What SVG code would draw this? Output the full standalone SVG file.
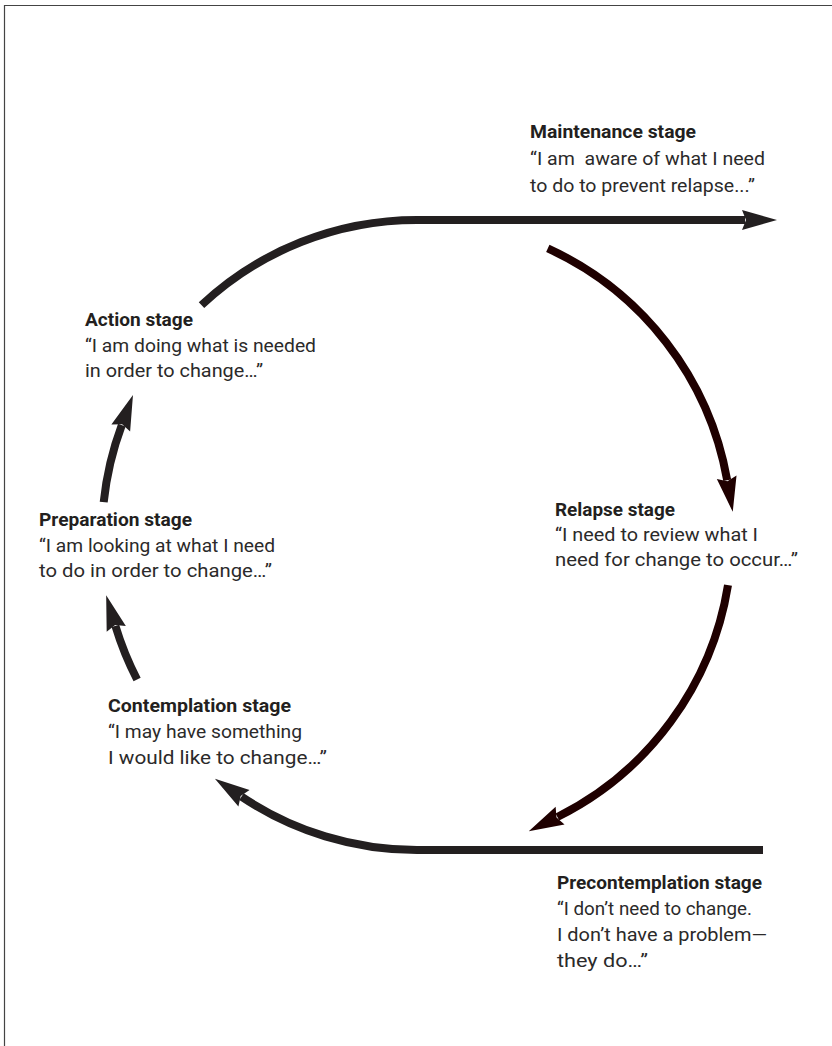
<svg xmlns="http://www.w3.org/2000/svg" width="832" height="1046" viewBox="0 0 832 1046">
<style>
.t{font-family:"Roboto","Liberation Sans",sans-serif;font-size:19px;fill:#2b2a2a}
.b{font-weight:700;fill:#231f20}
.arr{fill:none;stroke:#231f20;stroke-width:8}
.arr2{fill:none;stroke:#1f0000;stroke-width:8}
</style>
<defs>
<marker id="ah" markerUnits="userSpaceOnUse" orient="auto" overflow="visible" refX="0" refY="0" markerWidth="1" markerHeight="1"><path d="M-3,-10 L32,0 L-3,10 L1,0 Z" fill="#231f20"/></marker>
<marker id="ah2" markerUnits="userSpaceOnUse" orient="auto" overflow="visible" refX="0" refY="0" markerWidth="1" markerHeight="1"><path d="M-3,-10 L32,0 L-3,10 L1,0 Z" fill="#1f0000"/></marker>
</defs>
<rect width="832" height="1046" fill="#fff"/>
<path d="M4.5,1046 V5.5 H832" fill="none" stroke="#444" stroke-width="1.2"/>
<g id="connectors">
<path class="arr" d="M201.5,305.2 A315,315 0 0 1 417,220 L745,220" marker-end="url(#ah)"/>
<path class="arr2" d="M547.8,248.4 A315,315 0 0 1 727.2,480.3" marker-end="url(#ah2)"/>
<path class="arr2" d="M728,585.1 A315,315 0 0 1 557.4,817" marker-end="url(#ah2)"/>
<path class="arr" d="M763,850 L417,850 A315,315 0 0 1 241.5,796.6" marker-end="url(#ah)"/>
<path class="arr" d="M137.1,679.5 A315,315 0 0 1 115.4,625.9" marker-end="url(#ah)"/>
<path class="arr" d="M103.7,502.1 A315,315 0 0 1 121.8,425.1" marker-end="url(#ah)"/>
</g>
<g id="maintenance">
<text class="t b" x="530" y="138" textLength="166" lengthAdjust="spacingAndGlyphs">Maintenance stage</text>
<text class="t" x="530" y="165" textLength="235" lengthAdjust="spacingAndGlyphs" style="white-space:pre">“I am  aware of what I need</text>
<text class="t" x="530" y="192" textLength="225" lengthAdjust="spacingAndGlyphs">to do to prevent relapse...”</text>
</g>
<g id="action">
<text class="t b" x="85" y="326" textLength="108" lengthAdjust="spacingAndGlyphs">Action stage</text>
<text class="t" x="85" y="352" textLength="231" lengthAdjust="spacingAndGlyphs">“I am doing what is needed</text>
<text class="t" x="85" y="377" textLength="178" lengthAdjust="spacingAndGlyphs">in order to change…”</text>
</g>
<g id="relapse">
<text class="t b" x="555" y="516" textLength="120" lengthAdjust="spacingAndGlyphs">Relapse stage</text>
<text class="t" x="555" y="541" textLength="203" lengthAdjust="spacingAndGlyphs">“I need to review what I</text>
<text class="t" x="555" y="566" textLength="243" lengthAdjust="spacingAndGlyphs">need for change to occur…”</text>
</g>
<g id="preparation">
<text class="t b" x="39" y="526" textLength="153" lengthAdjust="spacingAndGlyphs">Preparation stage</text>
<text class="t" x="39" y="552" textLength="236" lengthAdjust="spacingAndGlyphs">“I am looking at what I need</text>
<text class="t" x="39" y="577" textLength="233" lengthAdjust="spacingAndGlyphs">to do in order to change…”</text>
</g>
<g id="contemplation">
<text class="t b" x="108" y="712" textLength="183" lengthAdjust="spacingAndGlyphs">Contemplation stage</text>
<text class="t" x="108" y="738" textLength="194" lengthAdjust="spacingAndGlyphs">“I may have something</text>
<text class="t" x="108" y="764" textLength="219" lengthAdjust="spacingAndGlyphs">I would like to change…”</text>
</g>
<g id="precontemplation">
<text class="t b" x="557" y="889" textLength="205" lengthAdjust="spacingAndGlyphs">Precontemplation stage</text>
<text class="t" x="557" y="915" textLength="195" lengthAdjust="spacingAndGlyphs">“I don’t need to change.</text>
<text class="t" x="557" y="941" textLength="210" lengthAdjust="spacingAndGlyphs">I don’t have a problem—</text>
<text class="t" x="557" y="967" textLength="91" lengthAdjust="spacingAndGlyphs">they do…”</text>
</g>
</svg>
